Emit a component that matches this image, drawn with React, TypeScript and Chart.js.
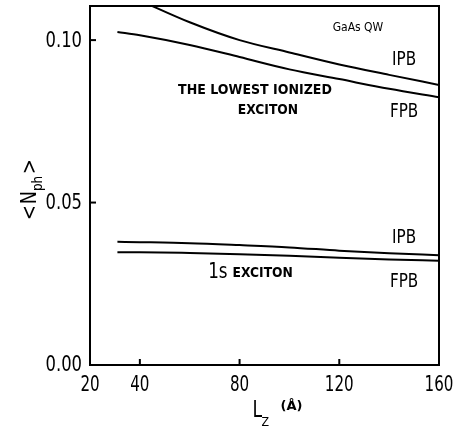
import React, { useEffect, useRef } from "react";
import { Chart, registerables } from "chart.js";

Chart.register(...registerables);

const lz = [31, 40, 60, 80, 100, 120, 140, 160];
const ionizedIPB = [0.1152, 0.1122, 0.1055, 0.1, 0.0962, 0.0925, 0.0893, 0.0862];
const ionizedFPB = [0.1025, 0.1015, 0.0985, 0.0948, 0.091, 0.088, 0.085, 0.0824];
const s1IPB = [0.0379, 0.0378, 0.0375, 0.0369, 0.0362, 0.0352, 0.0344, 0.0338];
const s1FPB = [0.0347, 0.0347, 0.0345, 0.0341, 0.0336, 0.033, 0.0325, 0.0321];

const xTicks = [20, 40, 80, 120, 160];
const yTicks = [0.0, 0.05, 0.1];

const labels = [
  { text: "GaAs QW", x: 127.5, y: 0.1037, size: 12, weight: "normal", sx: 0.9 },
  { text: "IPB", x: 146, y: 0.0938, size: 19, weight: "normal", sx: 0.8 },
  { text: "THE LOWEST IONIZED", x: 86.2, y: 0.0846, size: 14, weight: "bold", sx: 0.9 },
  { text: "EXCITON", x: 91.4, y: 0.0785, size: 14, weight: "bold", sx: 0.88 },
  { text: "FPB", x: 146, y: 0.0778, size: 19, weight: "normal", sx: 0.8 },
  { text: "IPB", x: 146, y: 0.0391, size: 19, weight: "normal", sx: 0.8 },
  { text: "FPB", x: 146, y: 0.0255, size: 19, weight: "normal", sx: 0.8 },
];

const FONT = "'DejaVu Sans', sans-serif";

function txt(ctx: any, s: string, x: number, y: number, size: number, weight: string, sx: number, align: string) {
  ctx.save();
  ctx.font = `${weight} ${size}px ${FONT}`;
  const w = ctx.measureText(s).width * sx;
  let left = x;
  if (align === "center") left = x - w / 2;
  else if (align === "right") left = x - w;
  ctx.translate(left, y);
  ctx.scale(sx, 1);
  ctx.textAlign = "left";
  ctx.textBaseline = "middle";
  ctx.fillText(s, 0, 0);
  ctx.restore();
  return w;
}

const decorPlugin = {
  id: "decor",
  afterDraw(chart: any) {
    const ctx = chart.ctx;
    const a = chart.chartArea;
    const xs = chart.scales.x;
    const ys = chart.scales.y;
    ctx.save();
    ctx.strokeStyle = "#000";
    ctx.fillStyle = "#000";
    ctx.lineWidth = 2;
    ctx.strokeRect(a.left, a.top, a.right - a.left, a.bottom - a.top);
    xTicks.forEach((v) => {
      const px = xs.getPixelForValue(v);
      ctx.beginPath();
      ctx.moveTo(px, a.bottom);
      ctx.lineTo(px, a.bottom - 6);
      ctx.stroke();
      txt(ctx, String(v), px, a.bottom + 21, 21, "normal", 0.72, "center");
    });
    yTicks.forEach((v) => {
      const py = ys.getPixelForValue(v);
      ctx.beginPath();
      ctx.moveTo(a.left, py);
      ctx.lineTo(a.left + 6, py);
      ctx.stroke();
      txt(ctx, v.toFixed(2), a.left - 8, py + 1, 21, "normal", 0.78, "right");
    });
    labels.forEach((l) => {
      txt(ctx, l.text, xs.getPixelForValue(l.x), ys.getPixelForValue(l.y), l.size, l.weight, l.sx, "center");
    });
    // "1s EXCITON"
    {
      const x0 = xs.getPixelForValue(67.4);
      const cy = ys.getPixelForValue(0.0286);
      const w1 = txt(ctx, "1s", x0, cy, 21, "normal", 0.8, "left");
      txt(ctx, "EXCITON", x0 + w1 + 5, cy + 1, 14, "bold", 0.88, "left");
    }
    // x title L_Z (Å)
    {
      const cx = (a.left + a.right) / 2;
      txt(ctx, "L", cx - 12, 411, 23, "normal", 0.75, "left");
      txt(ctx, "Z", cx - 3, 423, 13, "normal", 0.85, "left");
      txt(ctx, "(Å)", cx + 16, 407, 13, "bold", 1, "left");
    }
    // y title <N_ph>
    {
      ctx.save();
      ctx.translate(30, 193);
      ctx.rotate(-Math.PI / 2);
      const total = 54;
      let p = -total / 2;
      p += txt(ctx, "<", p, 0, 22, "normal", 0.8, "left");
      p += txt(ctx, "N", p + 1, 0, 22, "normal", 0.8, "left") + 1;
      p += txt(ctx, "ph", p, 8, 14, "normal", 0.85, "left");
      txt(ctx, ">", p + 2, 0, 22, "normal", 0.8, "left");
      ctx.restore();
    }
    ctx.restore();
  },
};

export default function App() {
  const ref = useRef<HTMLCanvasElement>(null);
  useEffect(() => {
    document.body.style.margin = "0";
    const mk = (vals: number[]) => ({
      data: lz.map((x, i) => ({ x, y: vals[i] })),
      borderColor: "#000",
      borderWidth: 2,
      pointRadius: 0,
      fill: false,
      cubicInterpolationMode: "monotone" as const,
    });
    const chart = new Chart(ref.current!, {
      type: "line",
      data: {
        datasets: [mk(ionizedIPB), mk(ionizedFPB), mk(s1IPB), mk(s1FPB)],
      },
      options: {
        animation: false,
        responsive: false,
        devicePixelRatio: 1,
        layout: { padding: { top: 6, right: 16, left: 0, bottom: 0 } },
        plugins: { legend: { display: false }, tooltip: { enabled: false } },
        scales: {
          x: {
            type: "linear",
            min: 20,
            max: 160,
            grid: { display: false },
            border: { display: false },
            ticks: { display: false },
            afterFit: (s: any) => {
              s.height = 66;
              s.paddingLeft = 0;
              s.paddingRight = 0;
            },
          },
          y: {
            type: "linear",
            min: 0,
            max: 0.1105,
            grid: { display: false },
            border: { display: false },
            ticks: { display: false },
            afterFit: (s: any) => {
              s.width = 90;
              s.paddingTop = 0;
              s.paddingBottom = 0;
            },
          },
        },
      },
      plugins: [decorPlugin],
    });
    return () => chart.destroy();
  }, []);
  return (
    <div style={{ position: "fixed", left: 0, top: 0, width: 455, height: 431, background: "#fff" }}>
      <canvas ref={ref} width={455} height={431} />
    </div>
  );
}
